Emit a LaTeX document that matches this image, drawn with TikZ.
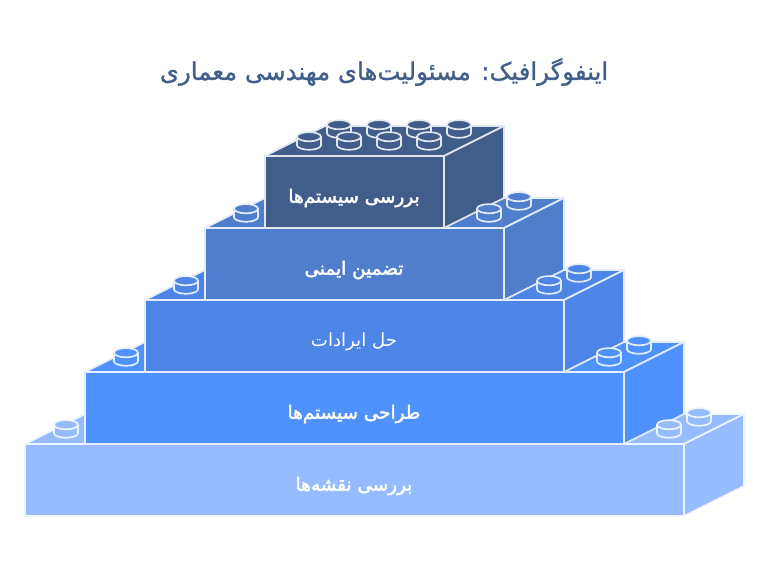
\documentclass[tikz,border=0pt]{standalone}
\usepackage{fontspec}
\newfontfamily\arabicfont[Script=Arabic]{DejaVu Sans}
\newfontfamily\arabicbold[Script=Arabic,FakeBold=2.4]{DejaVu Sans}
\newfontfamily\arabicsemi[Script=Arabic,FakeBold=1.0]{DejaVu Sans}
\TeXXeTstate=1
\definecolor{cA}{HTML}{96BCFF}
\definecolor{cB}{HTML}{4F91FF}
\definecolor{cC}{HTML}{4D86E6}
\definecolor{cD}{HTML}{4F7ECC}
\definecolor{cE}{HTML}{415E8A}
\tikzset{
  face/.style={line width=1.25pt,line join=round},
  blocklabel/.style={text=white,font=\arabicbold\fontsize{13.8}{16}\selectfont,inner sep=0pt,anchor=center},
  plainlabel/.style={blocklabel,font=\arabicfont\fontsize{13.6}{16}\selectfont},
  titlelabel/.style={text=cE,font=\arabicsemi\fontsize{18.3}{22}\selectfont,inner sep=0pt,anchor=center}
}
% \legoblock{left}{right}{top y}{colour}
\newcommand{\legoblock}[4]{%
  \def\bl{#1}\def\br{#2}\def\bt{#3}%
  \pgfmathsetmacro{\bb}{\bt+72}%
  \pgfmathsetmacro{\bbr}{\br+60}%
  \pgfmathsetmacro{\bbl}{\bl+60}%
  \pgfmathsetmacro{\btt}{\bt-30}%
  \pgfmathsetmacro{\brb}{\bb-30}%
  \colorlet{edge}{white!85!#4}%
  \draw[face,fill=#4,draw=edge] (\bl,\bt) -- (\bbl,\btt) -- (\bbr,\btt) -- (\br,\bt) -- cycle;
  \draw[face,fill=#4,draw=edge] (\br,\bt) -- (\bbr,\btt) -- (\bbr,\brb) -- (\br,\bb) -- cycle;
  \draw[face,fill=#4,draw=edge] (\bl,\bt) rectangle (\br,\bb);
}
% \legostud{x}{y of top ellipse centre}{colour}
\newcommand{\legostud}[3]{%
  \colorlet{edge}{white!85!#3}%
  \draw[face,fill=#3,draw=edge] (#1-12,#2) -- (#1-12,#2+8.5) arc[start angle=180,end angle=360,x radius=12,y radius=-4.6] -- (#1+12,#2) -- cycle;
  \draw[face,fill=#3,draw=edge] (#1,#2) ellipse[x radius=12,y radius=4.6];
}
\begin{document}
\begin{tikzpicture}[x=0.75pt,y=-0.75pt]
\useasboundingbox (0,0) rectangle (768,564);
\legoblock{25}{684}{444}{cA}
\legoblock{85}{624}{372}{cB}
\legoblock{145}{564}{300}{cC}
\legoblock{205}{504}{228}{cD}
\legoblock{265}{444}{156}{cE}
\foreach \x/\y in {66/424.7,699/412.7,669/424.7}{\legostud{\x}{\y}{cA}}
\foreach \x/\y in {126/352.7,639/340.7,609/352.7}{\legostud{\x}{\y}{cB}}
\foreach \x/\y in {186/280.7,579/268.7,549/280.7}{\legostud{\x}{\y}{cC}}
\foreach \x/\y in {246/208.7,519/196.7,489/208.7}{\legostud{\x}{\y}{cD}}
\foreach \x in {339,379,419,459}{\legostud{\x}{124.7}{cE}}
\foreach \x in {309,349,389,429}{\legostud{\x}{136.7}{cE}}
\node[titlelabel] (title) at (384,72) {\beginR اینفوگرافیک: مسئولیت‌های مهندسی معماری\endR};
\node[blocklabel] (l5) at (354,198) {\beginR بررسی سیستم‌ها\endR};
\node[blocklabel] (l4) at (354,270) {\beginR تضمین ایمنی\endR};
\node[plainlabel] (l3) at (354,342) {\beginR حل ایرادات\endR};
\node[blocklabel] (l2) at (354,414) {\beginR طراحی سیستم‌ها\endR};
\node[blocklabel] (l1) at (354,486) {\beginR بررسی نقشه‌ها\endR};
\end{tikzpicture}
\end{document}
